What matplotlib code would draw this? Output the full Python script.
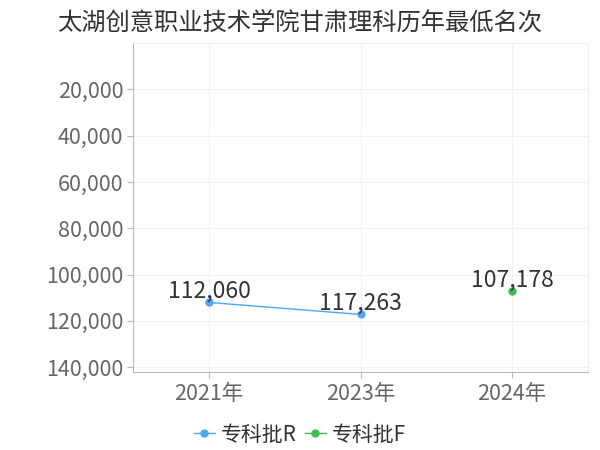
import matplotlib
matplotlib.use("Agg")
import matplotlib.pyplot as plt
from matplotlib.ticker import FuncFormatter

plt.rcParams['font.family'] = ['Noto Sans CJK SC', 'DejaVu Sans']

years = ['2021年', '2023年', '2024年']
r_pos = [0, 1]
r_vals = [112060, 117263]
f_pos = [2]
f_vals = [107178]
yticks = [20000, 40000, 60000, 80000, 100000, 120000, 140000]

blue = '#4da8f7'
green = '#3dbd55'

fig = plt.figure(figsize=(6, 4.5), dpi=100)
ax = fig.add_axes([0.222, 0.173, 0.758, 0.731])

ax.plot(r_pos, r_vals, color=blue, lw=1, marker='o', ms=5, label='专科批R', zorder=3)
ax.plot(f_pos, f_vals, color=green, lw=1, marker='o', ms=5, label='专科批F', zorder=3)

# value labels above each point
for x, v in zip(r_pos + f_pos, r_vals + f_vals):
    ax.annotate(f'{v:,}', (x, v), xytext=(0, 0), textcoords='offset points',
                ha='center', va='bottom', fontsize=16.5, color='#333333')

ax.set_xlim(-0.5, 2.5)
ax.set_ylim(142200, 0)
ax.set_xticks(range(len(years)))
ax.set_xticklabels(years)
ax.set_yticks(yticks)
ax.yaxis.set_major_formatter(FuncFormatter(lambda v, p: f'{int(v):,}'))
ax.tick_params(axis='both', labelsize=15.5, colors='#666666', length=4, color='#bbbbbb')
ax.tick_params(axis='x', pad=4)
ax.tick_params(axis='y', pad=3)
ax.grid(True, color='#f2f2f2', lw=0.8)
ax.set_axisbelow(True)

for s in ['top', 'right']:
    ax.spines[s].set_color('#f0f0f0')
for s in ['left', 'bottom']:
    ax.spines[s].set_color('#bbbbbb')

fig.suptitle('太湖创意职业技术学院甘肃理科历年最低名次', x=0.5, y=0.978,
             fontsize=17.5, color='#333333', ha='center', va='top')

fig.legend(loc='lower center', bbox_to_anchor=(0.5, -0.032), ncol=2, frameon=False,
           fontsize=15, handlelength=1.0, handletextpad=0.3, columnspacing=0.4,
           labelcolor='#333333')

fig.savefig('out.png', dpi=100)
